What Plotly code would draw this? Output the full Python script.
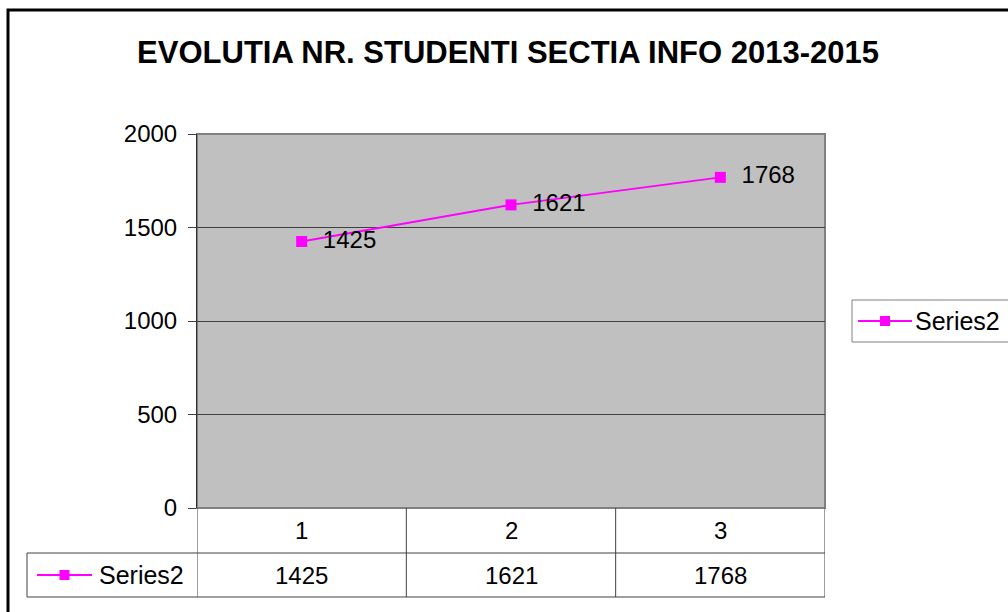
import plotly.graph_objects as go

# Student numbers for the INFO section, one value per year slot
categories = [1, 2, 3]
series_name = "Series2"
values = [1425, 1621, 1768]
y_ticks = [0, 500, 1000, 1500, 2000]

W, H = 1008, 612
FONT = "Liberation Sans, Arial, sans-serif"
MAGENTA = "#FF00FF"

# plot area in pixels
px_left, px_right = 197, 825
px_top, px_bottom = 134, 508
row1_bottom, row2_bottom = 553, 597
key_left = 27


def fx(px):
    return px / W


def fy(py):
    return 1 - py / H


fig = go.Figure()
fig.add_trace(go.Scatter(
    x=categories, y=values, name=series_name,
    mode="lines+markers+text",
    line=dict(color=MAGENTA, width=2),
    marker=dict(symbol="square", size=11, color=MAGENTA),
    text=["\u00a0\u00a0" + str(v) for v in values],
    textposition="middle right",
    textfont=dict(family=FONT, size=24, color="black"),
    cliponaxis=False,
    showlegend=False,
))

shapes = []
# outer chart frame (continues past the right and bottom edges)
shapes.append(dict(type="rect", xref="paper", yref="paper",
                   x0=fx(8), x1=1.05, y0=-0.05, y1=fy(10),
                   line=dict(color="black", width=3), layer="above"))
# plot area frame
shapes.append(dict(type="rect", xref="paper", yref="paper",
                   x0=fx(px_left), x1=fx(px_right), y0=fy(px_bottom), y1=fy(px_top),
                   line=dict(color="#808080", width=2), layer="below"))

grid = "#404040"
# data table: vertical separators at category boundaries
for b in [c - 0.5 for c in categories] + [categories[-1] + 0.5]:
    shapes.append(dict(type="line", xref="x", yref="paper",
                       x0=b, x1=b, y0=fy(row2_bottom), y1=fy(px_bottom),
                       line=dict(color=grid, width=1)))
# horizontal table rules
for rule in (row1_bottom, row2_bottom):
    shapes.append(dict(type="line", xref="paper", yref="paper",
                       x0=fx(key_left), x1=fx(px_right), y0=fy(rule), y1=fy(rule),
                       line=dict(color=grid, width=1)))
shapes.append(dict(type="line", xref="paper", yref="paper",
                   x0=fx(key_left), x1=fx(key_left), y0=fy(row2_bottom), y1=fy(row1_bottom),
                   line=dict(color=grid, width=1)))


def legend_key(x_start, x_end, y_px):
    """Line-with-square key as used by the legend and the table row."""
    yc = fy(y_px)
    xm = (x_start + x_end) / 2
    return [
        dict(type="line", xref="paper", yref="paper",
             x0=fx(x_start), x1=fx(x_end), y0=yc, y1=yc,
             line=dict(color=MAGENTA, width=2)),
        dict(type="rect", xref="paper", yref="paper",
             x0=fx(xm - 5), x1=fx(xm + 5), y0=yc - 5 / H, y1=yc + 5 / H,
             line=dict(width=0), fillcolor=MAGENTA),
    ]


row2_mid = (row1_bottom + row2_bottom) / 2
shapes += legend_key(37, 92, row2_mid)

# side legend box
leg_top, leg_bottom = 300, 342
shapes.append(dict(type="rect", xref="paper", yref="paper",
                   x0=fx(852), x1=1.05, y0=fy(leg_bottom), y1=fy(leg_top),
                   line=dict(color="#808080", width=1), fillcolor="white"))
shapes += legend_key(858, 912, (leg_top + leg_bottom) / 2)

annotations = []
txt = dict(family=FONT, size=24, color="black")
# category row
for c in categories:
    annotations.append(dict(x=c, y=fy((px_bottom + row1_bottom) / 2), xref="x", yref="paper",
                            text=str(c), showarrow=False, xanchor="center", yanchor="middle",
                            font=txt))
# value row
for c, v in zip(categories, values):
    annotations.append(dict(x=c, y=fy(row2_mid), xref="x", yref="paper",
                            text=str(v), showarrow=False, xanchor="center", yanchor="middle",
                            font=txt))
annotations.append(dict(x=fx(97), y=fy(row2_mid), xref="paper", yref="paper",
                        text=series_name, showarrow=False, xanchor="left", yanchor="middle",
                        font=dict(family=FONT, size=25, color="black")))
annotations.append(dict(x=fx(913), y=fy((leg_top + leg_bottom) / 2), xref="paper", yref="paper",
                        text=series_name, showarrow=False, xanchor="left", yanchor="middle",
                        font=dict(family=FONT, size=25, color="black")))

fig.update_layout(
    width=W, height=H,
    margin=dict(l=0, r=0, t=0, b=0, autoexpand=False),
    paper_bgcolor="white",
    plot_bgcolor="#C0C0C0",
    title=dict(text="<b>EVOLUTIA NR. STUDENTI SECTIA INFO 2013-2015</b>",
               x=0.504, xanchor="center", y=fy(52), yanchor="middle",
               font=dict(family=FONT, size=31, color="black")),
    xaxis=dict(domain=[fx(px_left), fx(px_right)], range=[0.5, 3.5],
               showticklabels=False, showgrid=False, zeroline=False,
               showline=False, ticks="", automargin=False),
    yaxis=dict(domain=[fy(px_bottom), fy(px_top)], range=[0, 2000],
               tickvals=y_ticks, ticks="outside", ticklen=8, tickcolor=grid,
               showgrid=True, gridcolor=grid, gridwidth=1,
               zeroline=False, showline=True, linecolor="#303030", linewidth=1,
               tickfont=txt, ticklabelstandoff=6, automargin=False),
    showlegend=False,
    shapes=shapes,
    annotations=annotations,
)

fig.write_html("out.html")
